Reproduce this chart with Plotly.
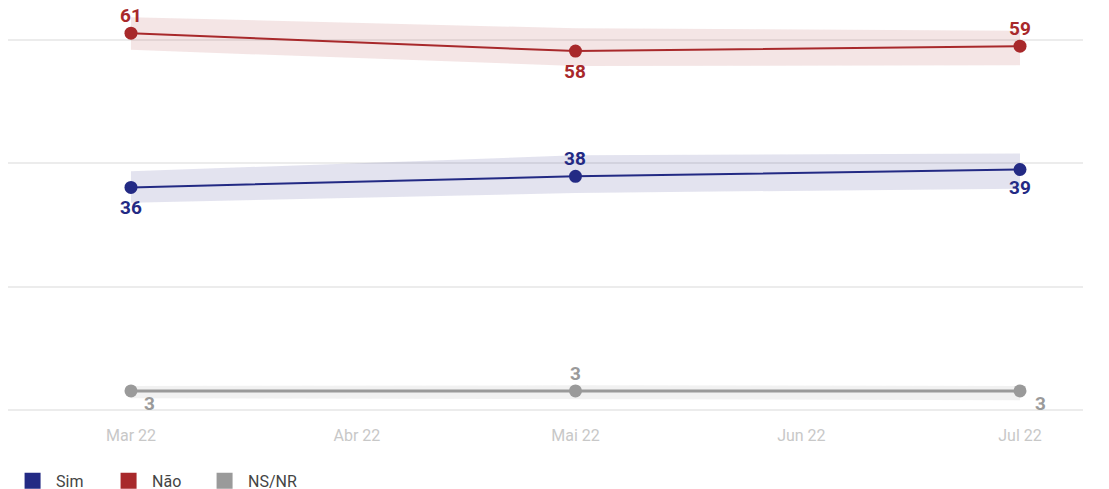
import plotly.graph_objects as go

datas = ['2022-03-01', '2022-05-01', '2022-07-01']

sim = [36.1, 37.9, 39.0]
sim_sup = [38.7, 41.3, 41.6]
sim_inf = [33.6, 35.2, 35.9]

nao = [61.1, 58.2, 59.0]
nao_sup = [63.7, 61.9, 61.5]
nao_inf = [58.4, 55.8, 55.9]

nsnr = [3.1, 3.1, 3.1]
nsnr_sup = [3.9, 4.0, 3.9]
nsnr_inf = [1.9, 1.8, 1.6]

rotulos_sim = ['36', '38', '39']
rotulos_nao = ['61', '58', '59']
rotulos_nsnr = ['3', '3', '3']

tick_vals = ['2022-03-01', '2022-04-01', '2022-05-01', '2022-06-01', '2022-07-01']
tick_text = ['Mar 22', 'Abr 22', 'Mai 22', 'Jun 22', 'Jul 22']

# (xshift, yshift) de cada rótulo em pixels
series = [
    ('Sim', sim, sim_sup, sim_inf, rotulos_sim, '#232a84', 'rgba(35,42,132,0.13)',
     [(0, -20), (0, 18), (0, -18)], 2),
    ('Não', nao, nao_sup, nao_inf, rotulos_nao, '#a8292b', 'rgba(168,41,43,0.12)',
     [(0, 18), (0, -20), (0, 18)], 2),
    ('NS/NR', nsnr, nsnr_sup, nsnr_inf, rotulos_nsnr, '#9a9a9a', 'rgba(150,150,150,0.13)',
     [(19, -13), (0, 17), (20, -13)], 3),
]

fig = go.Figure()

for nome, vals, sup, inf, rot, cor, banda, desloc, lw in series:
    fig.add_trace(go.Scatter(x=datas, y=sup, mode='lines', line=dict(width=0),
                             showlegend=False, hoverinfo='skip'))
    fig.add_trace(go.Scatter(x=datas, y=inf, mode='lines', line=dict(width=0),
                             fill='tonexty', fillcolor=banda,
                             showlegend=False, hoverinfo='skip'))
    fig.add_trace(go.Scatter(x=datas, y=vals, mode='lines+markers', name=nome,
                             line=dict(color=cor, width=lw),
                             marker=dict(color=cor, size=13),
                             showlegend=False, cliponaxis=False))
    for xd, yv, txt, (dx, dy) in zip(datas, vals, rot, desloc):
        fig.add_annotation(x=xd, y=yv, text=txt, showarrow=False,
                           xshift=dx, yshift=dy, xanchor='center', yanchor='middle',
                           font=dict(color=cor, size=19, family='Roboto', weight='bold'))

for nome, vals, sup, inf, rot, cor, banda, desloc, lw in series:
    fig.add_trace(go.Scatter(x=[None], y=[None], mode='markers', name=nome,
                             marker=dict(color=cor, size=17, symbol='square')))

fig.update_layout(
    width=1109, height=489,
    margin=dict(l=0, r=34, t=0, b=81, autoexpand=False),
    plot_bgcolor='white', paper_bgcolor='white',
    font=dict(family='Roboto', color='#444'),
    legend=dict(orientation='h', x=0.001, y=-0.159, yanchor='middle', xanchor='left',
                font=dict(size=16, color='#444'), itemwidth=37, traceorder='normal',
                entrywidth=44, entrywidthmode='pixels'),
)
fig.update_xaxes(
    type='date', range=['2022-02-12 03:00', '2022-07-09 15:30'],
    tickvals=tick_vals, ticktext=tick_text,
    tickfont=dict(size=16, color='#c8c8c8'),
    showgrid=False, zeroline=False, showline=False, automargin=False,
    ticks='outside', ticklen=5, tickcolor='white',
)
fig.update_yaxes(
    range=[-0.97, 65.19], tickvals=[0, 20, 40, 60], showticklabels=False,
    gridcolor='#ececec', gridwidth=2, zeroline=False, automargin=False,
)

fig.write_html('out.html')
